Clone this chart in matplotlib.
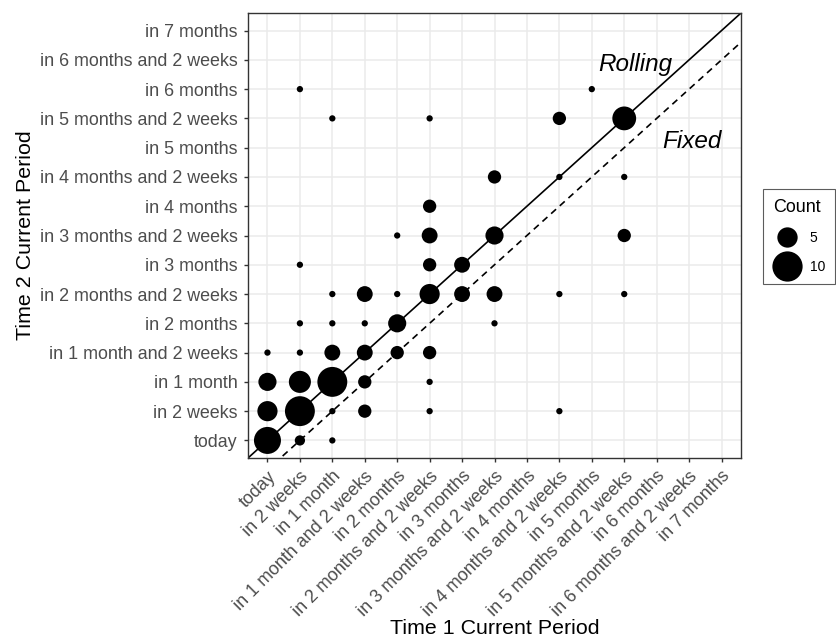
# Bubble chart of current period at time 1 vs time 2
import numpy as np
import matplotlib.pyplot as plt
from matplotlib.lines import Line2D

# ----------------------------------------------------------------------------------
# Data
# ----------------------------------------------------------------------------------
periods = ['today', 'in 2 weeks', 'in 1 month', 'in 1 month and 2 weeks',
           'in 2 months', 'in 2 months and 2 weeks', 'in 3 months',
           'in 3 months and 2 weeks', 'in 4 months', 'in 4 months and 2 weeks',
           'in 5 months', 'in 5 months and 2 weeks', 'in 6 months',
           'in 6 months and 2 weeks', 'in 7 months']

# index into periods for each observed pair, and its count
time1 = [0, 1, 2,
         0, 1, 2, 3, 5, 9,
         0, 1, 2, 3, 5,
         0, 1, 2, 3, 4, 5,
         1, 2, 3, 4, 7,
         2, 3, 4, 5, 6, 7, 9, 11,
         1, 5, 6,
         4, 5, 7, 11,
         5,
         7, 9, 11,
         2, 5, 9, 11,
         1, 10]
time2 = [0, 0, 0,
         1, 1, 1, 1, 1, 1,
         2, 2, 2, 2, 2,
         3, 3, 3, 3, 3, 3,
         4, 4, 4, 4, 4,
         5, 5, 5, 5, 5, 5, 5, 5,
         6, 6, 6,
         7, 7, 7, 7,
         8,
         9, 9, 9,
         11, 11, 11, 11,
         12, 12]
counts = [10, 2, 1,
          6, 12, 1, 3, 1, 1,
          5, 7, 12, 3, 1,
          1, 1, 4, 4, 3, 3,
          1, 1, 1, 5, 1,
          1, 4, 1, 6, 4, 4, 1, 1,
          1, 3, 4,
          1, 4, 5, 3,
          3,
          3, 1, 1,
          1, 1, 3, 8,
          1, 1]
legend_counts = [5, 10]


def point_diam(c, cmin=1, cmax=12):
    """ggplot-like area scale, returns marker diameter in points"""
    size = 1 + 5 * (np.sqrt(c) - np.sqrt(cmin)) / (np.sqrt(cmax) - np.sqrt(cmin))
    d_px = 1.66 * (2.845 * size + 0.945)
    return d_px * 0.72


# ----------------------------------------------------------------------------------
# Plot
# ----------------------------------------------------------------------------------
plt.rcParams['font.family'] = ['Liberation Sans', 'DejaVu Sans']

fig = plt.figure(figsize=(8.36, 6.41), dpi=100)
ax = fig.add_axes([248 / 836, 1 - 458 / 641, 493 / 836, 445 / 641])

lim = (-0.6, len(periods) - 1 + 0.6)
ax.set_xlim(lim)
ax.set_ylim(lim)

ax.set_xticks(range(len(periods)))
ax.set_yticks(range(len(periods)))
ax.set_xticklabels(periods, rotation=45, ha='right', va='top',
                   rotation_mode='anchor')
ax.set_yticklabels(periods)
ax.tick_params(axis='both', colors='#333333', length=3, width=1,
               labelcolor='#4D4D4D', labelsize=12.9)
ax.tick_params(axis='y', pad=4.5)
ax.tick_params(axis='x', pad=4)
ax.grid(True, color='#EBEBEB', linewidth=1.1)
ax.set_axisbelow(True)
for sp in ax.spines.values():
    sp.set_color('#333333')
    sp.set_linewidth(1.0)

# reference lines
xs = np.array(lim)
ax.plot(xs, xs, color='black', linewidth=1.2, zorder=2)
ax.plot(xs, xs - 1, color='black', linewidth=1.2, linestyle=(0, (4, 3)),
        zorder=2)

sizes = [point_diam(c) ** 2 for c in counts]
ax.scatter(time1, time2, s=sizes, color='black', linewidths=0, zorder=3)

ax.text(11.35, 12.85, 'Rolling', style='italic', fontsize=17.5,
        ha='center', va='center')
ax.text(13.1, 10.2, 'Fixed', style='italic', fontsize=17.5,
        ha='center', va='center')

ax.set_xlabel('Time 1 Current Period', fontsize=15.4)
ax.set_ylabel('Time 2 Current Period', fontsize=15.4)
ax.xaxis.set_label_coords(0.5, -0.384)
ax.yaxis.set_label_coords(-0.452, 0.5)
ax.xaxis.label.set_va('center')
ax.yaxis.label.set_va('center')

# panel title, clipped by the top edge as in the source figure
fig.text(466 / 836, 1 + 6 / 641, '(a)', fontsize=17, ha='center',
         va='baseline')

# legend
handles = [Line2D([], [], linestyle='none', marker='o', color='black',
                  markeredgewidth=0, markersize=point_diam(c) * 1.12)
           for c in legend_counts]
leg = ax.legend(handles, [str(c) for c in legend_counts], title='Count',
                loc='center left', bbox_to_anchor=(763 / 836, 0.631),
                bbox_transform=fig.transFigure, borderaxespad=0,
                frameon=True, fancybox=False,
                edgecolor='#333333', fontsize=10, title_fontsize=12.9,
                handlelength=2.0, handletextpad=0.6, labelspacing=1.05,
                borderpad=0.75, alignment='left')
leg.get_frame().set_linewidth(0.8)

fig.savefig('out.png', dpi=100)
